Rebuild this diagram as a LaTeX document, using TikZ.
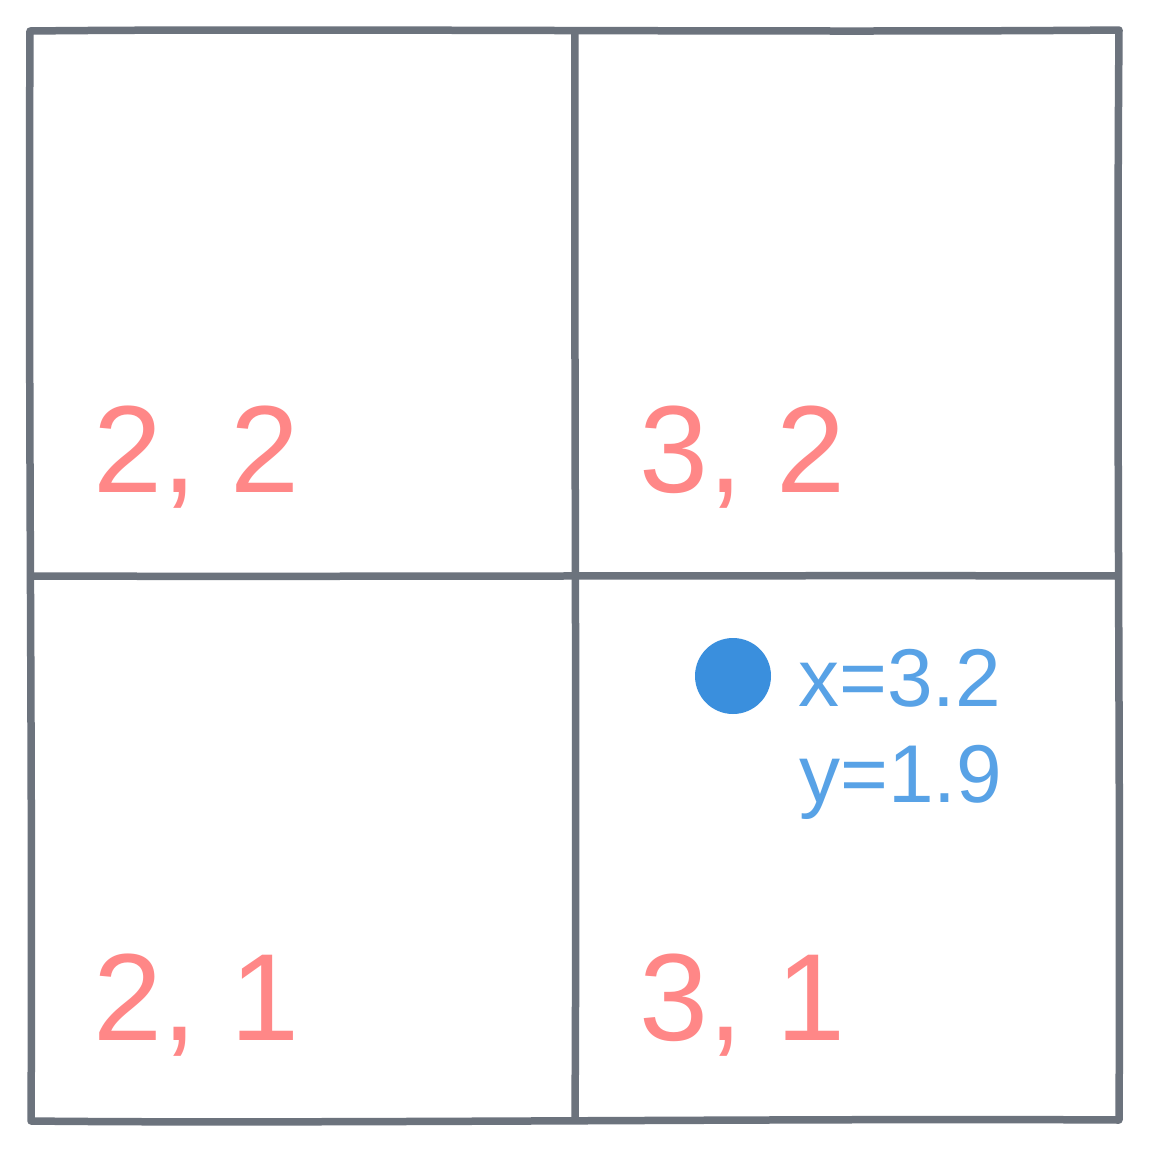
\documentclass[tikz,border=0pt]{standalone}
\usepackage{fontspec}
\setmainfont{Liberation Sans}
\definecolor{gridgray}{HTML}{6C737D}
\definecolor{cellred}{HTML}{FF8787}
\definecolor{ptblue}{HTML}{58A2E6}
\definecolor{dotblue}{HTML}{3A8FDD}
\begin{document}
\begin{tikzpicture}[x=1pt,y=-1pt,
  gridline/.style={draw=gridgray,line width=7.5pt,line cap=round,line join=round},
  celllabel/.style={text=cellred,anchor=base west,inner sep=0pt,font=\fontsize{124}{124}\selectfont},
  ptlabel/.style={text=ptblue,anchor=base west,inner sep=0pt,font=\fontsize{82}{96}\selectfont}]
\useasboundingbox (0,0) rectangle (1150,1152);
\fill[white] (0,0) rectangle (1150,1152);
% outer square
\draw[gridline] (30,31) .. controls (300,28) and (800,33) .. (1119,30)
  .. controls (1116,400) and (1121,800) .. (1119,1120)
  .. controls (800,1118) and (300,1124) .. (31,1121)
  .. controls (33,800) and (28,400) .. (30,31) -- cycle;
% inner lines
\draw[gridline] (575,32) .. controls (574,300) and (577,800) .. (575,1120);
\draw[gridline] (31,576) .. controls (300,577) and (800,575) .. (1118,576);
% labels
\node[celllabel] (c22) at (93,492) {2, 2};
\node[celllabel] (c32) at (639,492) {3, 2};
\node[celllabel] (c21) at (93,1040) {2, 1};
\node[celllabel] (c31) at (639,1040) {3, 1};
% point
\fill[dotblue] (733,676) circle (38);
\node[ptlabel] (px) at (798,706) {x=3.2};
\node[ptlabel] (py) at (799,802) {y=1.9};
\end{tikzpicture}
\end{document}
